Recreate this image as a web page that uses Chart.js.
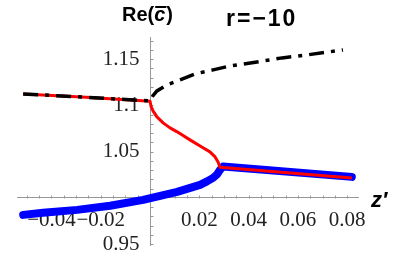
<!DOCTYPE html>
<html>
<head>
<meta charset="utf-8">
<script src="https://cdn.jsdelivr.net/npm/chart.js@4.4.1/dist/chart.umd.min.js"></script>
<style>
  html, body { margin: 0; padding: 0; background: #fff; }
  #wrap { width: 415px; height: 260px; }
</style>
</head>
<body>
<div id="wrap"><canvas id="chart" width="415" height="260"></canvas></div>
<script>
// dash-dot branch (left part + upper branch after the bifurcation)
const blackX = [-0.0515, -0.026, 0, 0.0004, 0.0028, 0.0069, 0.0122, 0.0183, 0.0256, 0.0325, 0.0434, 0.0536, 0.0637, 0.0783];
const blackY = [1.1124, 1.1088, 1.1049, 1.1081, 1.1157, 1.1222, 1.1276, 1.1341, 1.1384, 1.1427, 1.1470, 1.1514, 1.1546, 1.1600];

// red branch (left part, S-shaped fold, right part)
const redX = [-0.0515, -0.026, 0, 0.0004, 0.0012, 0.0028, 0.0053, 0.0081, 0.0110, 0.0162, 0.0215, 0.0243, 0.0264, 0.0276, 0.0284, 0.0819];
const redY = [1.1124, 1.1088, 1.1045, 1.0990, 1.0941, 1.0876, 1.0811, 1.0757, 1.0714, 1.0627, 1.0541, 1.0497, 1.0443, 1.0389, 1.0330, 1.0216];

// thick blue branch
const blueX = [-0.0515, -0.0434, -0.0296, -0.0162, -0.0028, 0.0110, 0.0203, 0.0231, 0.0256, 0.0272, 0.0284, 0.0296, 0.0819];
const blueY = [0.9816, 0.9838, 0.9870, 0.9914, 0.9978, 1.0065, 1.0141, 1.0178, 1.0216, 1.0254, 1.0303, 1.0338, 1.0227];

const xMajorTicks = [-0.04, -0.02, 0.02, 0.04, 0.06, 0.08];
const xTickLabels = ["\u22120.04", "\u22120.02", "0.02", "0.04", "0.06", "0.08"];
const yMajorTicks = [0.95, 1.05, 1.1, 1.15];
const yTickLabels = ["0.95", "1.05", "1.1", "1.15"];

function toPoints(xs, ys) {
  return xs.map((x, i) => ({ x: x, y: ys[i] }));
}

function stepTicks(from, to, step) {
  const ticks = [];
  const n = Math.round((to - from) / step);
  for (let i = 0; i <= n; i++) {
    ticks.push({ value: +(from + i * step).toFixed(4) });
  }
  return ticks;
}

function labelFor(value, majors, labels) {
  const i = majors.findIndex(m => Math.abs(m - value) < 1e-6);
  return i >= 0 ? labels[i] : "";
}

// small gray tick marks drawn on the inner side of each axis
const tickMarks = {
  id: "tickMarks",
  beforeDatasetsDraw(chart) {
    const ctx = chart.ctx;
    const xs = chart.scales.x;
    const ys = chart.scales.y;
    const x0 = Math.round(xs.getPixelForValue(0)) + 0.5;
    const y0 = Math.round(ys.getPixelForValue(1)) + 0.5;
    ctx.save();
    ctx.strokeStyle = "#999";
    ctx.lineWidth = 1;
    ctx.beginPath();
    xs.ticks.forEach(t => {
      const px = Math.round(xs.getPixelForValue(t.value)) + 0.5;
      ctx.moveTo(px, y0);
      ctx.lineTo(px, y0 - 3);
    });
    ys.ticks.forEach(t => {
      const py = Math.round(ys.getPixelForValue(t.value)) + 0.5;
      ctx.moveTo(x0, py);
      ctx.lineTo(x0 + 3, py);
    });
    ctx.stroke();
    ctx.restore();
  }
};

const annotations = {
  id: "annotations",
  afterDraw(chart) {
    const ctx = chart.ctx;
    ctx.save();
    ctx.fillStyle = "#000";
    ctx.textBaseline = "alphabetic";
    ctx.textAlign = "left";

    // Re( c-bar )
    ctx.font = "bold 20px 'Liberation Sans'";
    let x = 122;
    ctx.fillText("Re(", x, 21);
    x += ctx.measureText("Re(").width;
    ctx.font = "bold italic 20px 'Liberation Sans'";
    const cw = ctx.measureText("c").width;
    ctx.fillText("c", x, 21);
    ctx.fillRect(x + 1, 6, cw, 2);
    x += cw + 1;
    ctx.font = "bold 20px 'Liberation Sans'";
    ctx.fillText(")", x, 21);

    ctx.font = "bold 23px 'Liberation Sans'";
    ctx.letterSpacing = "2px";
    ctx.fillText("r=\u221210", 226, 26);
    ctx.letterSpacing = "0px";

    ctx.font = "bold italic 22px 'Liberation Sans'";
    ctx.fillText("z\u2032", 371, 207);
    ctx.restore();
  }
};

new Chart(document.getElementById("chart"), {
  type: "scatter",
  data: {
    datasets: [
      {
        data: toPoints(blackX, blackY),
        showLine: true,
        borderColor: "#000",
        borderWidth: 3.5,
        borderDash: [15, 7, 4, 7],
        pointRadius: 0,
        order: 0
      },
      {
        data: toPoints(redX, redY),
        showLine: true,
        borderColor: "#ff0000",
        borderWidth: 3,
        borderJoinStyle: "round",
        pointRadius: 0,
        order: 1
      },
      {
        data: toPoints(blueX, blueY),
        showLine: true,
        borderColor: "#0000ff",
        borderWidth: 8,
        borderCapStyle: "round",
        borderJoinStyle: "round",
        pointRadius: 0,
        order: 2
      }
    ]
  },
  options: {
    responsive: false,
    animation: false,
    layout: { padding: { left: 17, right: 57, top: 37, bottom: 15 } },
    plugins: {
      legend: { display: false },
      tooltip: { enabled: false }
    },
    scales: {
      x: {
        type: "linear",
        min: -0.054,
        max: 0.0844,
        position: { y: 1 },
        afterBuildTicks: scale => { scale.ticks = stepTicks(-0.05, 0.08, 0.005); },
        grid: { display: true, drawOnChartArea: false, drawTicks: false },
        border: { display: true, color: "#999", width: 1 },
        ticks: {
          autoSkip: false,
          maxRotation: 0,
          padding: 10,
          color: "#222",
          font: { family: "'Liberation Serif', 'DejaVu Serif', serif", size: 21 },
          callback: value => labelFor(value, xMajorTicks, xTickLabels)
        }
      },
      y: {
        type: "linear",
        min: 0.949,
        max: 1.174,
        position: { x: 0 },
        afterBuildTicks: scale => { scale.ticks = stepTicks(0.95, 1.17, 0.01); },
        grid: { display: true, drawOnChartArea: false, drawTicks: false },
        border: { display: true, color: "#999", width: 1 },
        ticks: {
          autoSkip: false,
          padding: 0,
          color: "#222",
          font: { family: "'Liberation Serif', 'DejaVu Serif', serif", size: 21 },
          // labels of a value-positioned axis sit right on the axis line, the spaces keep a gap
          callback: value => {
            const label = labelFor(value, yMajorTicks, yTickLabels);
            return label ? label + "  " : "";
          }
        }
      }
    }
  },
  plugins: [tickMarks, annotations]
});
</script>
</body>
</html>
